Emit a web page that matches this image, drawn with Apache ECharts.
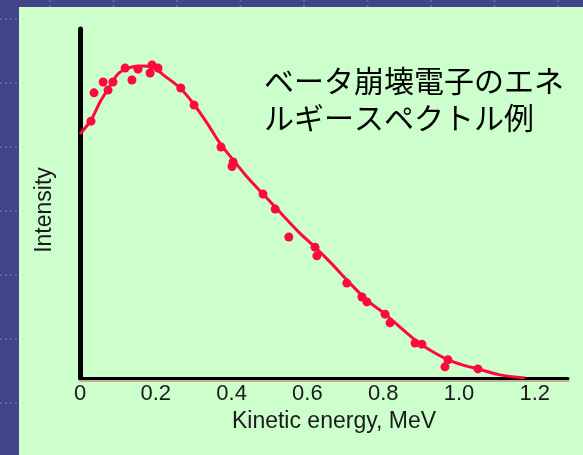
<!DOCTYPE html>
<html>
<head>
<meta charset="utf-8">
<script src="https://cdn.jsdelivr.net/npm/echarts@6/dist/echarts.min.js"></script>
<style>
html,body{margin:0;padding:0;background:#42448a;}
#chart{width:583px;height:455px;}
</style>
</head>
<body>
<div id="chart"></div>
<script>
// Tick labels on the energy axis
var tickLabels = ['0', '0.2', '0.4', '0.6', '0.8', '1.0', '1.2'];

// Measured data points (energy MeV, intensity in arbitrary units)
var pointEnergy = [0.029, 0.037, 0.061, 0.074, 0.087, 0.119, 0.137, 0.153, 0.185, 0.190, 0.206,
  0.266, 0.301, 0.372, 0.404, 0.401, 0.483, 0.515, 0.551, 0.620, 0.625, 0.704, 0.744, 0.757,
  0.805, 0.818, 0.884, 0.902, 0.971, 0.963, 1.050];
var pointIntensity = [73.6, 81.7, 84.8, 82.5, 84.8, 88.8, 85.4, 88.5, 87.4, 89.7, 88.8,
  83.1, 78.2, 66.2, 61.9, 60.6, 52.7, 48.4, 40.4, 37.5, 35.0, 27.2, 23.2, 21.8,
  18.3, 15.8, 10.0, 9.7, 5.2, 3.2, 2.6];

// Fitted spectrum curve
var curveEnergy = [0, 0.029, 0.053, 0.074, 0.100, 0.127, 0.158, 0.190, 0.224, 0.264, 0.298,
  0.335, 0.369, 0.404, 0.441, 0.483, 0.520, 0.580, 0.620, 0.660, 0.704, 0.757, 0.805,
  0.844, 0.884, 0.923, 0.971, 1.011, 1.050, 1.108, 1.174];
var curveIntensity = [69.9, 73.9, 79.1, 82.8, 87.1, 88.8, 89.4, 89.1, 86.5, 83.1, 78.8,
  73.1, 67.3, 62.5, 57.6, 52.7, 48.4, 41.5, 37.5, 33.2, 28.1, 22.3, 18.3,
  14.6, 10.9, 8.0, 5.2, 3.7, 2.6, 0.9, 0.0];

var titleLines = ['ベータ崩壊電子のエネ', 'ルギースペクトル例'];

var chart = echarts.init(document.getElementById('chart'));

var red = '#ff0840';
var deco = [];
// green panel
deco.push({type: 'rect', shape: {x: 19, y: 7, width: 564, height: 448}, style: {fill: '#ccffcc'}, z: -10, silent: true});
// dotted background lines (left strip and top strip)
for (var y = 19; y < 455; y += 64) {
  deco.push({type: 'line', shape: {x1: 0, y1: y, x2: 19, y2: y}, style: {stroke: '#5c60b4', lineWidth: 2, lineDash: [2, 3]}, z: -11, silent: true});
}
for (var x = 50; x < 583; x += 63.5) {
  deco.push({type: 'line', shape: {x1: x, y1: 0, x2: x, y2: 7}, style: {stroke: '#5c60b4', lineWidth: 2, lineDash: [2, 3]}, z: -11, silent: true});
}
for (var i = 0; i < titleLines.length; i++) {
  deco.push({type: 'text', left: 264, top: 66 + i * 37, z: 10,
    style: {text: titleLines[i], fill: '#000', font: '30px "Noto Sans CJK JP"'}});
}

var option = {
  backgroundColor: '#42448a',
  animation: false,
  graphic: deco,
  grid: {left: 80, right: 15, top: 29, bottom: 77, containLabel: false},
  xAxis: {
    type: 'value', min: 0, max: 1.2876, interval: 0.2,
    name: 'Kinetic energy, MeV', nameLocation: 'middle', nameGap: 22,
    nameTextStyle: {fontFamily: 'Liberation Sans', fontSize: 23, color: '#1a1a1a', padding: [0, 0, 0, 20]},
    axisLine: {lineStyle: {color: '#000', width: 3, shadowColor: '#bfb08f', shadowOffsetY: 2}},
    axisTick: {show: false},
    splitLine: {show: false},
    axisLabel: {
      showMaxLabel: false, margin: 5,
      fontFamily: 'Liberation Sans', fontSize: 22, color: '#1a1a1a',
      formatter: function (v) {
        var k = Math.round(v / 0.2);
        return Math.abs(v - k * 0.2) < 1e-6 && k < tickLabels.length ? tickLabels[k] : '';
      }
    }
  },
  yAxis: {
    type: 'value', min: 0, max: 100,
    name: 'Intensity', nameLocation: 'middle', nameRotate: 90, nameGap: 24,
    nameTextStyle: {fontFamily: 'Liberation Sans', fontSize: 23, color: '#1a1a1a', padding: [0, 13, 0, 0]},
    axisLine: {show: true, lineStyle: {color: '#000', width: 5}},
    axisTick: {show: false},
    axisLabel: {show: false},
    splitLine: {show: false}
  },
  series: [
    {
      type: 'line', smooth: 0.3, showSymbol: false, z: 3,
      data: curveEnergy.map(function (e, i) { return [e, curveIntensity[i]]; }),
      lineStyle: {color: red, width: 3}
    },
    {
      type: 'scatter', symbol: 'circle', symbolSize: 9, z: 4,
      data: pointEnergy.map(function (e, i) { return [e, pointIntensity[i]]; }),
      itemStyle: {color: red, opacity: 1}
    }
  ]
};
chart.setOption(option);
</script>
</body>
</html>
